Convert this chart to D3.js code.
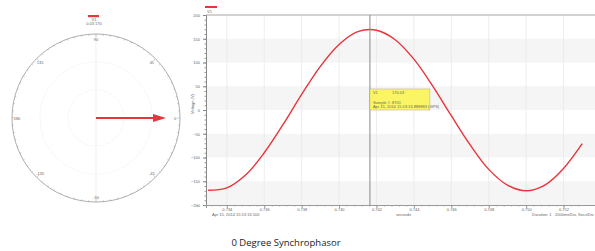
<!DOCTYPE html>
<html>
<head>
<meta charset="utf-8">
<script src="https://cdn.jsdelivr.net/npm/d3@7"></script>
<style>
  body { margin: 0; background: #fff; }
  svg { display: block; font-family: "Liberation Sans", Arial, sans-serif; }
  .tiny { font-size: 4px; fill: #666; }
</style>
</head>
<body>
<svg id="chart" width="595" height="251"></svg>
<script>
// waveform samples (seconds, volts)
const times = [0.733, 0.734, 0.735, 0.736, 0.737, 0.738, 0.739, 0.740, 0.741, 0.742,
  0.743, 0.744, 0.745, 0.746, 0.747, 0.748, 0.749, 0.750, 0.751, 0.752, 0.753];
const voltage = [-169, -164, -137, -90, -31, 33, 92, 138, 165, 168,
  148, 107, 51, -12, -73, -125, -158, -170, -158, -123, -71];
const xTicks = [0.734, 0.736, 0.738, 0.740, 0.742, 0.744, 0.746, 0.748, 0.750, 0.752];
const yTicks = [-200, -150, -100, -50, 0, 50, 100, 150, 200];
const cursorTime = 0.74165;

// phasor
const phasorAngle = [0];       // degrees
const phasorMag = [170];
const angleLabels = [0, 45, 90, 135, 180, -135, -90, -45];
const ringLevels = [68, 136, 204];

const svg = d3.select("#chart");
const red = "#e8343a";

// ---------- waveform ----------
const plot = { left: 206, top: 15, right: 600, bottom: 205 };

const x = d3.scaleLinear()
  .domain([0.734 - 22 / 39.5 * 0.002, 0.734 + 394 / 39.5 * 0.002])
  .range([plot.left, plot.right]);
const y = d3.scaleLinear().domain([-200, 200]).range([plot.bottom, plot.top]);

const wave = svg.append("g");

// alternating bands
const bands = [[100, 150], [0, 50], [-100, -50], [-200, -150]];
wave.selectAll("rect.band")
  .data(bands)
  .enter()
  .append("rect")
  .attr("x", plot.left)
  .attr("width", plot.right - plot.left)
  .attr("y", (d) => y(d[1]))
  .attr("height", (d) => y(d[0]) - y(d[1]))
  .attr("fill", "#f5f5f5");

// vertical grid
wave.selectAll("line.vgrid")
  .data(xTicks)
  .enter()
  .append("line")
  .attr("x1", (d) => x(d)).attr("x2", (d) => x(d))
  .attr("y1", plot.top).attr("y2", plot.bottom)
  .attr("stroke", "#e8e8e8")
  .attr("stroke-width", 0.8);

// top border
wave.append("line")
  .attr("x1", plot.left).attr("x2", plot.right)
  .attr("y1", plot.top).attr("y2", plot.top)
  .attr("stroke", "#d2d2d2")
  .attr("stroke-width", 2);

// y axis with minor ticks
const yMinor = d3.range(-200, 201, 10);
wave.append("g")
  .attr("transform", `translate(${plot.left},0)`)
  .call(d3.axisLeft(y).tickValues(yMinor).tickSize(1.5).tickFormat(""))
  .call((g) => g.select(".domain").remove())
  .selectAll("line").attr("stroke", "#999");
const yAxis = wave.append("g")
  .attr("transform", `translate(${plot.left},0)`)
  .call(d3.axisLeft(y).tickValues(yTicks).tickSize(3).tickPadding(3));
yAxis.select(".domain").attr("stroke", "#888");
yAxis.selectAll("line").attr("stroke", "#888");
yAxis.selectAll("text").attr("class", "tiny").style("font-size", "4px");

wave.append("text")
  .attr("class", "tiny")
  .attr("transform", "translate(194,104) rotate(-90)")
  .attr("text-anchor", "middle")
  .text("Voltage (V)");

// x axis with minor ticks
const xMinor = d3.range(0.7324, 0.7530, 0.0004);
wave.append("g")
  .attr("transform", `translate(0,${plot.bottom})`)
  .call(d3.axisBottom(x).tickValues(xMinor).tickSize(1.5).tickFormat(""))
  .call((g) => g.select(".domain").remove())
  .selectAll("line").attr("stroke", "#aaa");
const xAxis = wave.append("g")
  .attr("transform", `translate(0,${plot.bottom})`)
  .call(d3.axisBottom(x).tickValues(xTicks).tickSize(3).tickPadding(0.5).tickFormat(d3.format(".3f")));
xAxis.select(".domain").attr("stroke", "#999");
xAxis.selectAll("line").attr("stroke", "#999");
xAxis.selectAll("text").attr("class", "tiny").style("font-size", "4px");

const subLabels = [
  { x: 212, text: "Apr 15, 2014 15:13:13.500" },
  { x: 396, text: "seconds" },
  { x: 532, text: "Duration: 1" },
  { x: 555, text: "2000ms/Div, Secs/Div" }
];
wave.selectAll("text.sub")
  .data(subLabels)
  .enter()
  .append("text")
  .attr("class", "tiny")
  .attr("x", (d) => d.x)
  .attr("y", 216)
  .text((d) => d.text);

// curve
const line = d3.line()
  .x((d, i) => x(times[i]))
  .y((d) => y(d))
  .curve(d3.curveCatmullRom);

svg.append("clipPath").attr("id", "clip")
  .append("rect")
  .attr("x", plot.left).attr("y", plot.top)
  .attr("width", plot.right - plot.left).attr("height", plot.bottom - plot.top);

wave.append("path")
  .datum(voltage)
  .attr("clip-path", "url(#clip)")
  .attr("fill", "none")
  .attr("stroke", red)
  .attr("stroke-width", 1.4)
  .attr("d", line);

// cursor
wave.append("line")
  .attr("x1", x(cursorTime)).attr("x2", x(cursorTime))
  .attr("y1", plot.top).attr("y2", plot.bottom)
  .attr("stroke", "#8a8a8a")
  .attr("stroke-width", 1);

const tip = wave.append("g").attr("transform", `translate(${x(cursorTime)},89)`);
tip.append("rect")
  .attr("width", 60).attr("height", 21)
  .attr("fill", "#fbf565")
  .attr("stroke", "#b8b060")
  .attr("stroke-width", 0.5);
tip.append("text").attr("class", "tiny").attr("x", 3).attr("y", 5).text("V1");
tip.append("text").attr("class", "tiny").attr("x", 22).attr("y", 5).text("170.03");
tip.append("text").attr("class", "tiny").attr("x", 3).attr("y", 14.5).text("Sample #: 8701");
tip.append("text").attr("class", "tiny").attr("x", 3).attr("y", 19).text("Apr 15, 2014 15:13:13.888883 (GPS)");

// legend
wave.append("rect").attr("x", 205).attr("y", 6).attr("width", 12).attr("height", 2).attr("fill", red);
wave.append("text").attr("class", "tiny").attr("x", 207).attr("y", 13).text("V1");

// ---------- phasor ----------
const cx = 96, cy = 118, R = 84;
const r = d3.scaleLinear().domain([0, 204]).range([0, R]);
const polar = svg.append("g").attr("transform", `translate(${cx},${cy})`);

polar.selectAll("circle.ring")
  .data(ringLevels.slice(0, 2))
  .enter()
  .append("circle")
  .attr("r", (d) => r(d))
  .attr("fill", "none")
  .attr("stroke", "#e4e4e4")
  .attr("stroke-dasharray", "1,1")
  .attr("stroke-width", 0.6);

polar.append("line")
  .attr("x1", 0).attr("x2", 0).attr("y1", -R).attr("y2", R)
  .attr("stroke", "#e6e6e6").attr("stroke-width", 0.6);

polar.append("circle")
  .attr("r", R)
  .attr("fill", "none")
  .attr("stroke", "#999")
  .attr("stroke-width", 0.8);

// degree ticks around the rim
polar.selectAll("line.rim")
  .data(d3.range(0, 360, 5))
  .enter()
  .append("line")
  .attr("x1", (d) => (R - (d % 45 === 0 ? 3 : 1.5)) * Math.cos(d * Math.PI / 180))
  .attr("y1", (d) => -(R - (d % 45 === 0 ? 3 : 1.5)) * Math.sin(d * Math.PI / 180))
  .attr("x2", (d) => R * Math.cos(d * Math.PI / 180))
  .attr("y2", (d) => -R * Math.sin(d * Math.PI / 180))
  .attr("stroke", "#999")
  .attr("stroke-width", 0.5);

polar.selectAll("text.ang")
  .data(angleLabels)
  .enter()
  .append("text")
  .attr("class", "tiny")
  .attr("x", (d) => (R - 5) * Math.cos(d * Math.PI / 180))
  .attr("y", (d) => -(R - 5) * Math.sin(d * Math.PI / 180) + 1.5)
  .attr("text-anchor", "middle")
  .text((d) => d);

// phasor arrow
const ang = phasorAngle[0] * Math.PI / 180;
const len = r(phasorMag[0]);
const head = 13;
polar.append("line")
  .attr("x1", 0).attr("y1", 0)
  .attr("x2", (len - head + 2) * Math.cos(ang))
  .attr("y2", -(len - head + 2) * Math.sin(ang))
  .attr("stroke", red)
  .attr("stroke-width", 2);
polar.append("path")
  .attr("transform", `rotate(${-phasorAngle[0]})`)
  .attr("d", `M${len},0 L${len - head},-4 L${len - head},4 Z`)
  .attr("fill", red);

// legend
polar.append("rect").attr("x", -8).attr("y", -103).attr("width", 11).attr("height", 2.2).attr("fill", red);
polar.append("text").attr("class", "tiny").attr("x", -2).attr("y", -97).attr("text-anchor", "middle").text("V1");
polar.append("text").attr("class", "tiny").attr("x", -2).attr("y", -93).attr("text-anchor", "middle").text("0.03  170");

// ---------- caption ----------
svg.append("text")
  .attr("x", 286)
  .attr("y", 246)
  .attr("text-anchor", "middle")
  .style("font-family", "'Open Sans', sans-serif")
  .style("font-size", "9.5px")
  .attr("fill", "#222")
  .text("0 Degree Synchrophasor");
</script>
</body>
</html>
